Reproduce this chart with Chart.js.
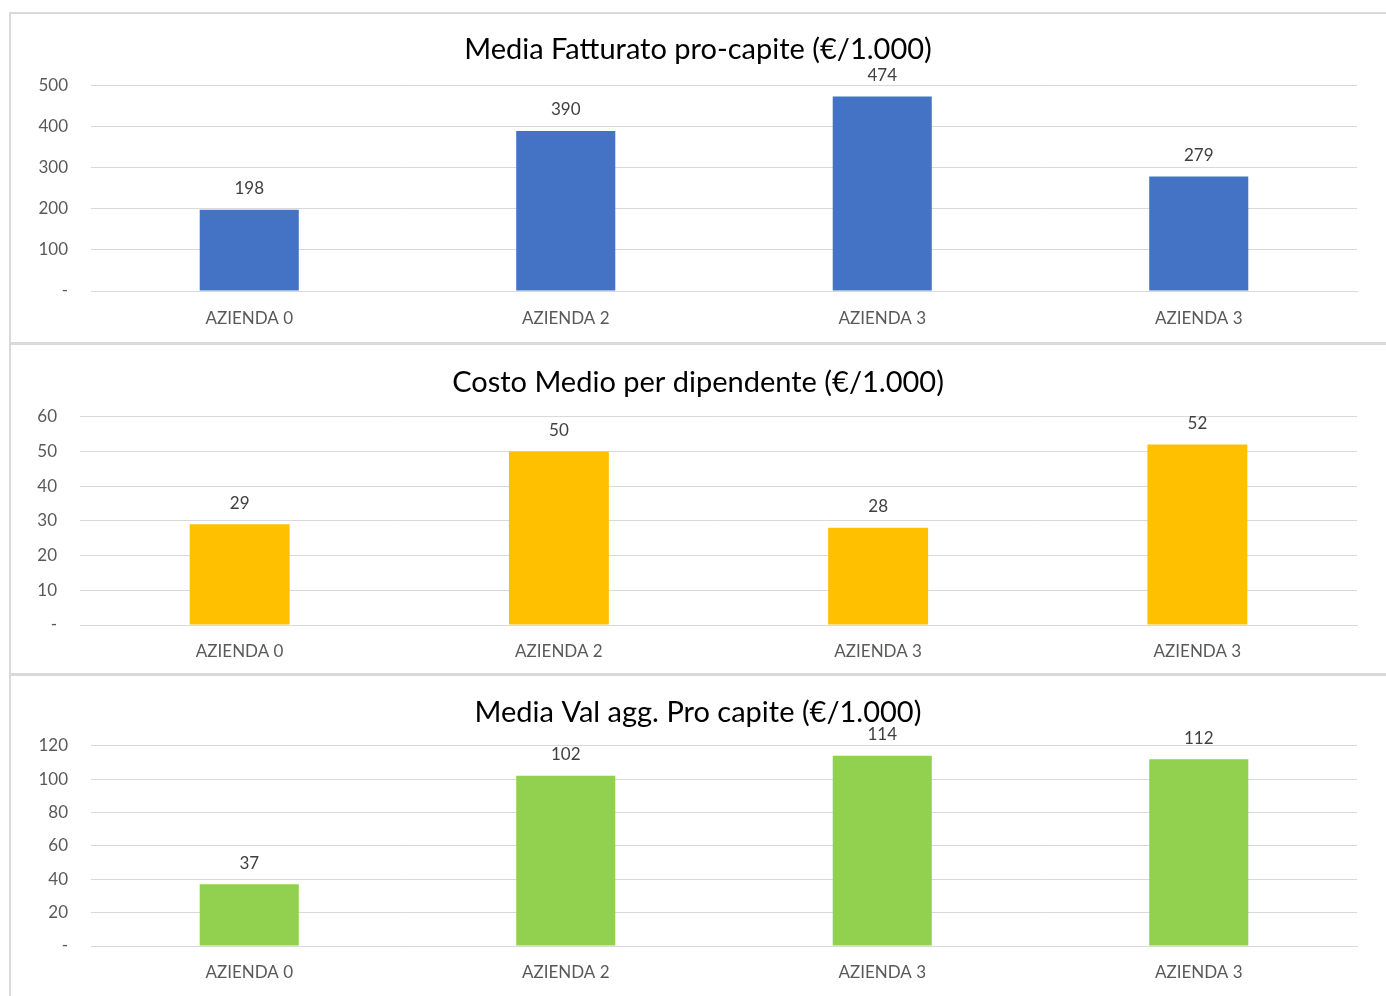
<!DOCTYPE html>
<html>
<head>
<meta charset="utf-8">
<script src="https://cdn.jsdelivr.net/npm/chart.js@4.4.1/dist/chart.umd.min.js"></script>
<style>
  body { margin: 0; background: #fff; overflow: hidden; width: 1386px; height: 996px; position: relative; }
  .frame { position: absolute; left: 9px; width: 1400px; border: 2px solid #d9d9d9; box-sizing: border-box; }
  canvas { position: absolute; left: 0; }
</style>
</head>
<body>
<div class="frame" style="top:12px;height:332px"></div>
<div class="frame" style="top:343px;height:332px"></div>
<div class="frame" style="top:674px;height:340px"></div>
<canvas id="c1" width="1396" height="330" style="top:13px"></canvas>
<canvas id="c2" width="1396" height="328" style="top:345px"></canvas>
<canvas id="c3" width="1396" height="321" style="top:675px"></canvas>
<script>
var categories = ['AZIENDA 0', 'AZIENDA 2', 'AZIENDA 3', 'AZIENDA 3'];
var fatturato = [198, 390, 474, 279];
var costoMedio = [29, 50, 28, 52];
var valAgg = [37, 102, 114, 112];

var titles = [
    'Media Fatturato pro-capite (€/1.000)',
    'Costo Medio per dipendente (€/1.000)',
    'Media Val agg. Pro capite (€/1.000)'
];

var FONT = 'Lato, "Open Sans", sans-serif';
var TEXT = '#595959';

// value labels above each bar
var barLabels = {
    id: 'barLabels',
    afterDatasetsDraw: function(chart) {
        var ctx = chart.ctx;
        var meta = chart.getDatasetMeta(0);
        ctx.save();
        ctx.font = '17px ' + FONT;
        ctx.fillStyle = '#404040';
        ctx.textAlign = 'center';
        ctx.textBaseline = 'middle';
        meta.data.forEach(function(bar, i) {
            ctx.fillText(chart.data.datasets[0].data[i], bar.x, bar.y - 21);
        });
        ctx.restore();
    }
};

function makeChart(id, title, values, color, max, step, axisWidth, titlePad, xHeight, xPad) {
    var ctx = document.getElementById(id).getContext('2d');
    return new Chart(ctx, {
        type: 'bar',
        data: {
            labels: categories,
            datasets: [{
                data: values,
                backgroundColor: color,
                categoryPercentage: 1,
                barPercentage: 0.313
            }]
        },
        options: {
            responsive: false,
            animation: false,
            plugins: {
                legend: { display: false },
                tooltip: { enabled: false },
                title: {
                    display: true,
                    text: title,
                    color: '#000',
                    font: { family: FONT, size: 29, weight: 'normal' },
                    padding: titlePad
                }
            },
            scales: {
                x: {
                    afterFit: function(scale) { scale.height = xHeight; },
                    grid: { display: false, drawTicks: false },
                    border: { color: '#d9d9d9', width: 1 },
                    ticks: { color: TEXT, font: { family: FONT, size: 17 }, padding: xPad }
                },
                y: {
                    min: 0,
                    max: max,
                    afterFit: function(scale) { scale.width = axisWidth; },
                    grid: { color: '#d9d9d9', drawTicks: false },
                    border: { display: false },
                    ticks: {
                        stepSize: step,
                        color: TEXT,
                        padding: 23,
                        font: { family: FONT, size: 17 },
                        callback: function(v) { return v === 0 ? '-' : v; }
                    }
                },
                // empty right margin, keeps the title centred on the whole box
                yRight: {
                    position: 'right',
                    afterFit: function(scale) { scale.width = 39; },
                    grid: { display: false },
                    border: { display: false },
                    ticks: { display: false }
                }
            }
        },
        plugins: [barLabels]
    });
}

makeChart('c1', titles[0], fatturato, '#4472C4', 500, 100, 91, { top: 19, bottom: 19 }, 52, 17);
makeChart('c2', titles[1], costoMedio, '#FFC000', 60, 10, 80, { top: 20, bottom: 17 }, 48, 16);
makeChart('c3', titles[2], valAgg, '#92D050', 120, 20, 91, { top: 20, bottom: 16 }, 50, 16);
</script>
</body>
</html>
